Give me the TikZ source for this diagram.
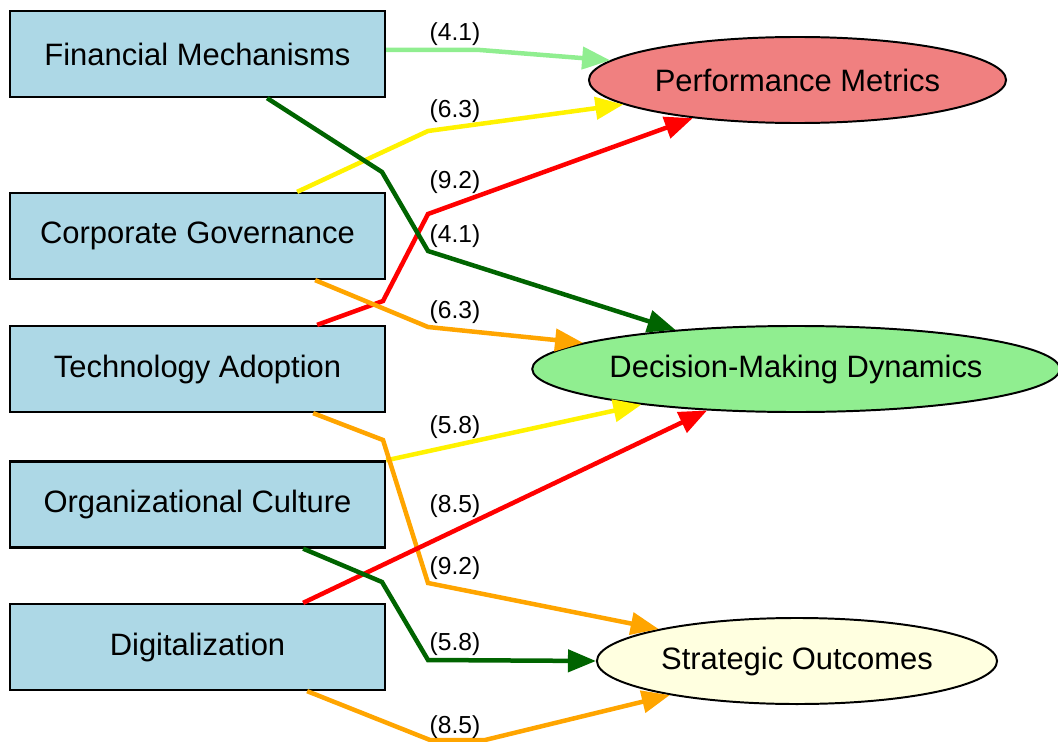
\documentclass[tikz,border=0pt]{standalone}
\usepackage{fontspec}
\setmainfont{Liberation Sans}
\usetikzlibrary{arrows.meta,shapes.geometric}

\definecolor{lightblue}{HTML}{ADD8E6}
\definecolor{lightcoral}{HTML}{F08080}
\definecolor{lightgreen}{HTML}{90EE90}
\definecolor{lightyellow}{HTML}{FFFFE0}
\definecolor{darkgreen}{HTML}{006400}
\definecolor{orange}{HTML}{FFA500}

\begin{document}
\begin{tikzpicture}[x=0.025cm,y=-0.025cm,>={Triangle[length=0.7cm,width=0.55cm]},
    factor/.style={shape=rectangle,draw=black,line width=1.6pt,fill=lightblue,
        minimum width=9.375cm,minimum height=2.15cm,font=\fontsize{22}{26}\selectfont},
    outcome/.style={shape=ellipse,draw=black,line width=1.4pt,inner xsep=0pt,
        minimum height=2.15cm,font=\fontsize{22}{26}\selectfont},
    weight/.style={font=\fontsize{17.5}{20}\selectfont},
    link/.style={line width=3.2pt}]
    \useasboundingbox (0,0) rectangle (1058,742);
    % drivers
    \node[factor] (fm) at (197.5,54) {Financial Mechanisms};
    \node[factor] (cg) at (197.5,236) {Corporate Governance};
    \node[factor] (ta) at (197.5,369) {Technology Adoption};
    \node[factor] (oc) at (197.5,504.5) {Organizational Culture};
    \node[factor] (dig) at (197.5,647) {Digitalization};
    % outcomes
    \node[outcome,fill=lightcoral,minimum width=10.425cm] (pm) at (797.5,80) {Performance Metrics};
    \node[outcome,fill=lightgreen,minimum width=13.15cm] (dmd) at (796,369) {Decision-Making Dynamics};
    \node[outcome,fill=lightyellow,minimum width=10cm] (so) at (797,661) {Strategic Outcomes};
    % weighted links
    \draw[link,->,draw=lightgreen] ([yshift=0.1cm]fm.east) -- (480,50) -- (pm.174.6);
    \draw[link,->,draw=yellow] ([xshift=2.49cm]cg.north) -- (428,131) -- (pm.-172.4);
    \draw[link,->,draw=red] ([xshift=2.99cm]ta.north) -- (383,301) -- (428,214) -- (pm.-160.4);
    \draw[link,->,draw=darkgreen] ([xshift=1.74cm]fm.south) -- (382,172) -- (428,251) -- (dmd.162.3);
    \draw[link,->,draw=orange] ([xshift=2.94cm]cg.south) -- (428,327) -- (dmd.173.2);
    \draw[link,->,draw=yellow] (oc.north east) -- (dmd.-167.8);
    \draw[link,->,draw=orange] ([xshift=2.89cm]ta.south) -- (383,440) -- (428,583) -- (so.167.6);
    \draw[link,->,draw=red] ([xshift=2.64cm]dig.north) -- (dmd.-155.3);
    \draw[link,->,draw=darkgreen] ([xshift=2.64cm]oc.south) -- (382,582) -- (428,660) -- (so.west);
    \draw[link,->,draw=orange] ([xshift=2.74cm]dig.south) -- (430,740) -- (485,740) -- (so.-165.9);
    % weights
    \node[weight] (w1) at (455,34) {(4.1)};
    \node[weight] (w2) at (455,111) {(6.3)};
    \node[weight] (w3) at (455,182) {(9.2)};
    \node[weight] (w4) at (455,236) {(4.1)};
    \node[weight] (w5) at (455,312) {(6.3)};
    \node[weight] (w6) at (455,427) {(5.8)};
    \node[weight] (w7) at (455,506) {(8.5)};
    \node[weight] (w8) at (455,568) {(9.2)};
    \node[weight] (w9) at (455,644) {(5.8)};
    \node[weight] (w10) at (455,727) {(8.5)};
\end{tikzpicture}
\end{document}
